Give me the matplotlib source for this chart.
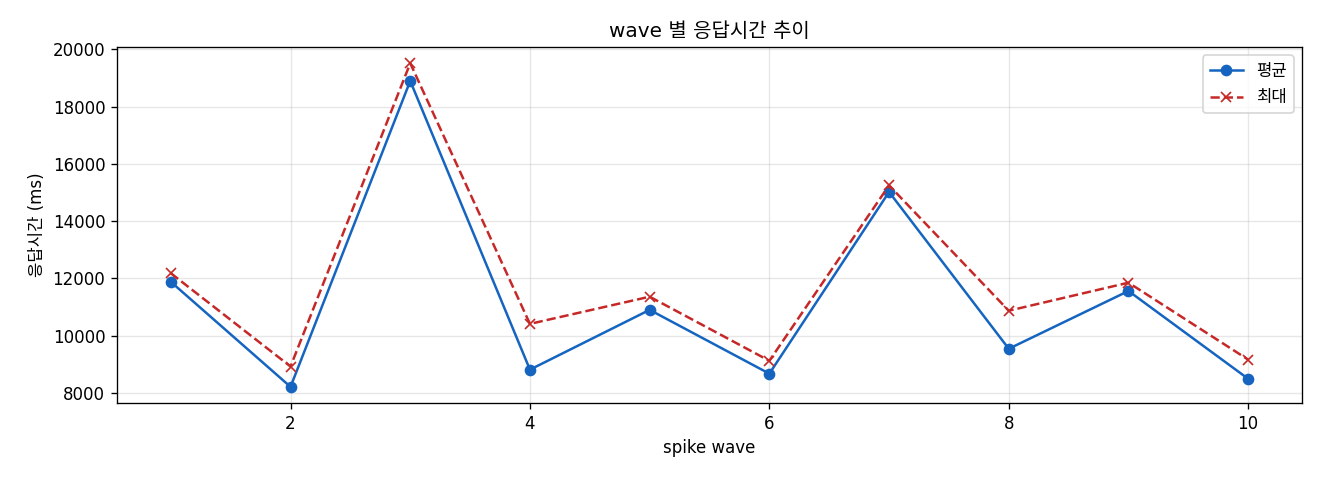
import matplotlib
matplotlib.use('Agg')
import matplotlib.pyplot as plt

plt.rcParams['font.family'] = ['DejaVu Sans', 'Noto Sans CJK KR']
plt.rcParams['axes.unicode_minus'] = False

# wave 별 응답시간 (ms)
waves = [1, 2, 3, 4, 5, 6, 7, 8, 9, 10]
avg_ms = [11880, 8210, 18900, 8810, 10900, 8670, 15020, 9540, 11560, 8490]
max_ms = [12180, 8920, 19520, 10410, 11360, 9120, 15250, 10870, 11850, 9160]

fig, ax = plt.subplots(figsize=(11, 4), dpi=120)
ax.plot(waves, avg_ms, marker='o', color='#1565C0', linewidth=1.5,
        markersize=6, label='평균')
ax.plot(waves, max_ms, marker='x', linestyle='--', color='#C62828',
        linewidth=1.5, markersize=6, label='최대')

ax.set_title('wave 별 응답시간 추이', fontsize=12)
ax.set_xlabel('spike wave', fontsize=10)
ax.set_ylabel('응답시간 (ms)', fontsize=10)
ax.grid(True, alpha=0.3)
ax.legend(loc='upper right')

fig.subplots_adjust(left=0.0886, right=0.9864, top=0.902, bottom=0.1604)
plt.savefig('out.png')
